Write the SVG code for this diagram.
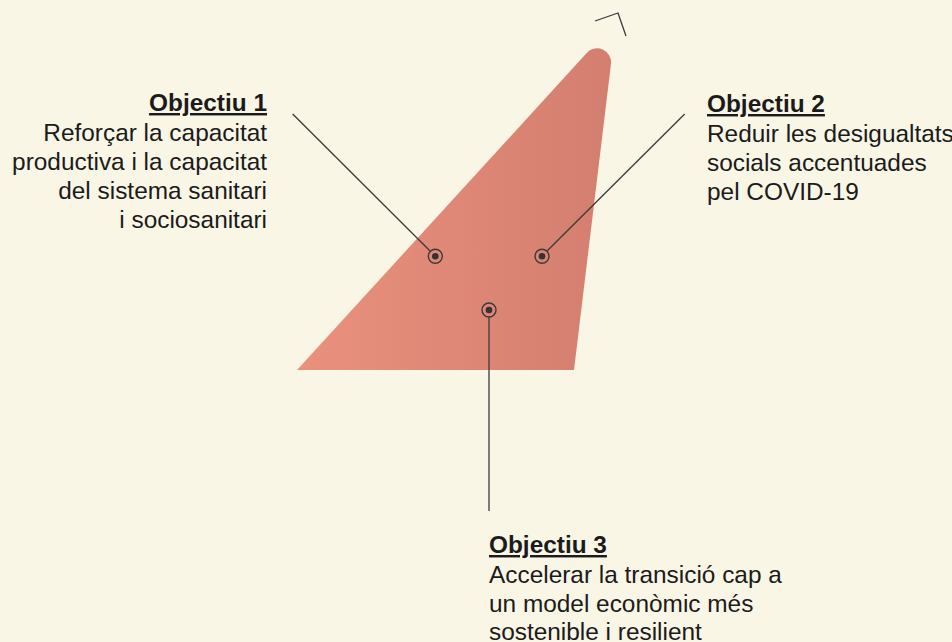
<svg xmlns="http://www.w3.org/2000/svg" width="952" height="642" viewBox="0 0 952 642">
<defs>
<linearGradient id="g" x1="297" y1="0" x2="611" y2="0" gradientUnits="userSpaceOnUse">
<stop offset="0" stop-color="#EA917E"/>
<stop offset="1" stop-color="#D37E6F"/>
</linearGradient>
<style>
.t{font-family:"Liberation Sans",Arial,sans-serif;font-size:24.4px;fill:#1b1b1b}
.h{font-weight:bold;text-decoration:underline}
.ln{stroke:#3a3a3a;stroke-width:1.3;fill:none}
.ring{stroke:#3a3a3a;stroke-width:1.4;fill:none}
.dot{fill:#333}
</style>
</defs>
<rect width="952" height="642" fill="#FAF6E6"/>
<g id="shape">
<path d="M297,370 L574,370 L610.9,64.6 A14,14 0 0 0 586,53.8 Z" fill="url(#g)"/>
<polyline class="ln" points="595,21 618,13 626,36"/>
</g>
<g id="connectors">
<line class="ln" x1="292.7" y1="114" x2="430.3" y2="251.3"/>
<line class="ln" x1="684.7" y1="114" x2="547" y2="251"/>
<line class="ln" x1="489" y1="317" x2="489" y2="511"/>
</g>
<g id="obj1">
<circle class="ring" cx="435.3" cy="256.3" r="7"/>
<circle class="dot" cx="435.3" cy="256.3" r="3.3"/>
<text class="t" text-anchor="end" x="267"><tspan class="h" x="267" y="111">Objectiu 1</tspan><tspan x="267" y="141">Reforçar la capacitat</tspan><tspan x="267" y="170">productiva i la capacitat</tspan><tspan x="267" y="199">del sistema sanitari</tspan><tspan x="267" y="228">i sociosanitari</tspan></text>
</g>
<g id="obj2">
<circle class="ring" cx="542" cy="256.3" r="7"/>
<circle class="dot" cx="542" cy="256.3" r="3.3"/>
<text class="t" x="707"><tspan class="h" x="707" y="112">Objectiu 2</tspan><tspan x="707" y="142">Reduir les desigualtats</tspan><tspan x="707" y="171">socials accentuades</tspan><tspan x="707" y="200">pel COVID-19</tspan></text>
</g>
<g id="obj3">
<circle class="ring" cx="489" cy="310" r="7"/>
<circle class="dot" cx="489" cy="310" r="3.3"/>
<text class="t" x="489"><tspan class="h" x="489" y="553">Objectiu 3</tspan><tspan x="489" y="583">Accelerar la transició cap a</tspan><tspan x="489" y="612">un model econòmic més</tspan><tspan x="489" y="640">sostenible i resilient</tspan></text>
</g>
</svg>
